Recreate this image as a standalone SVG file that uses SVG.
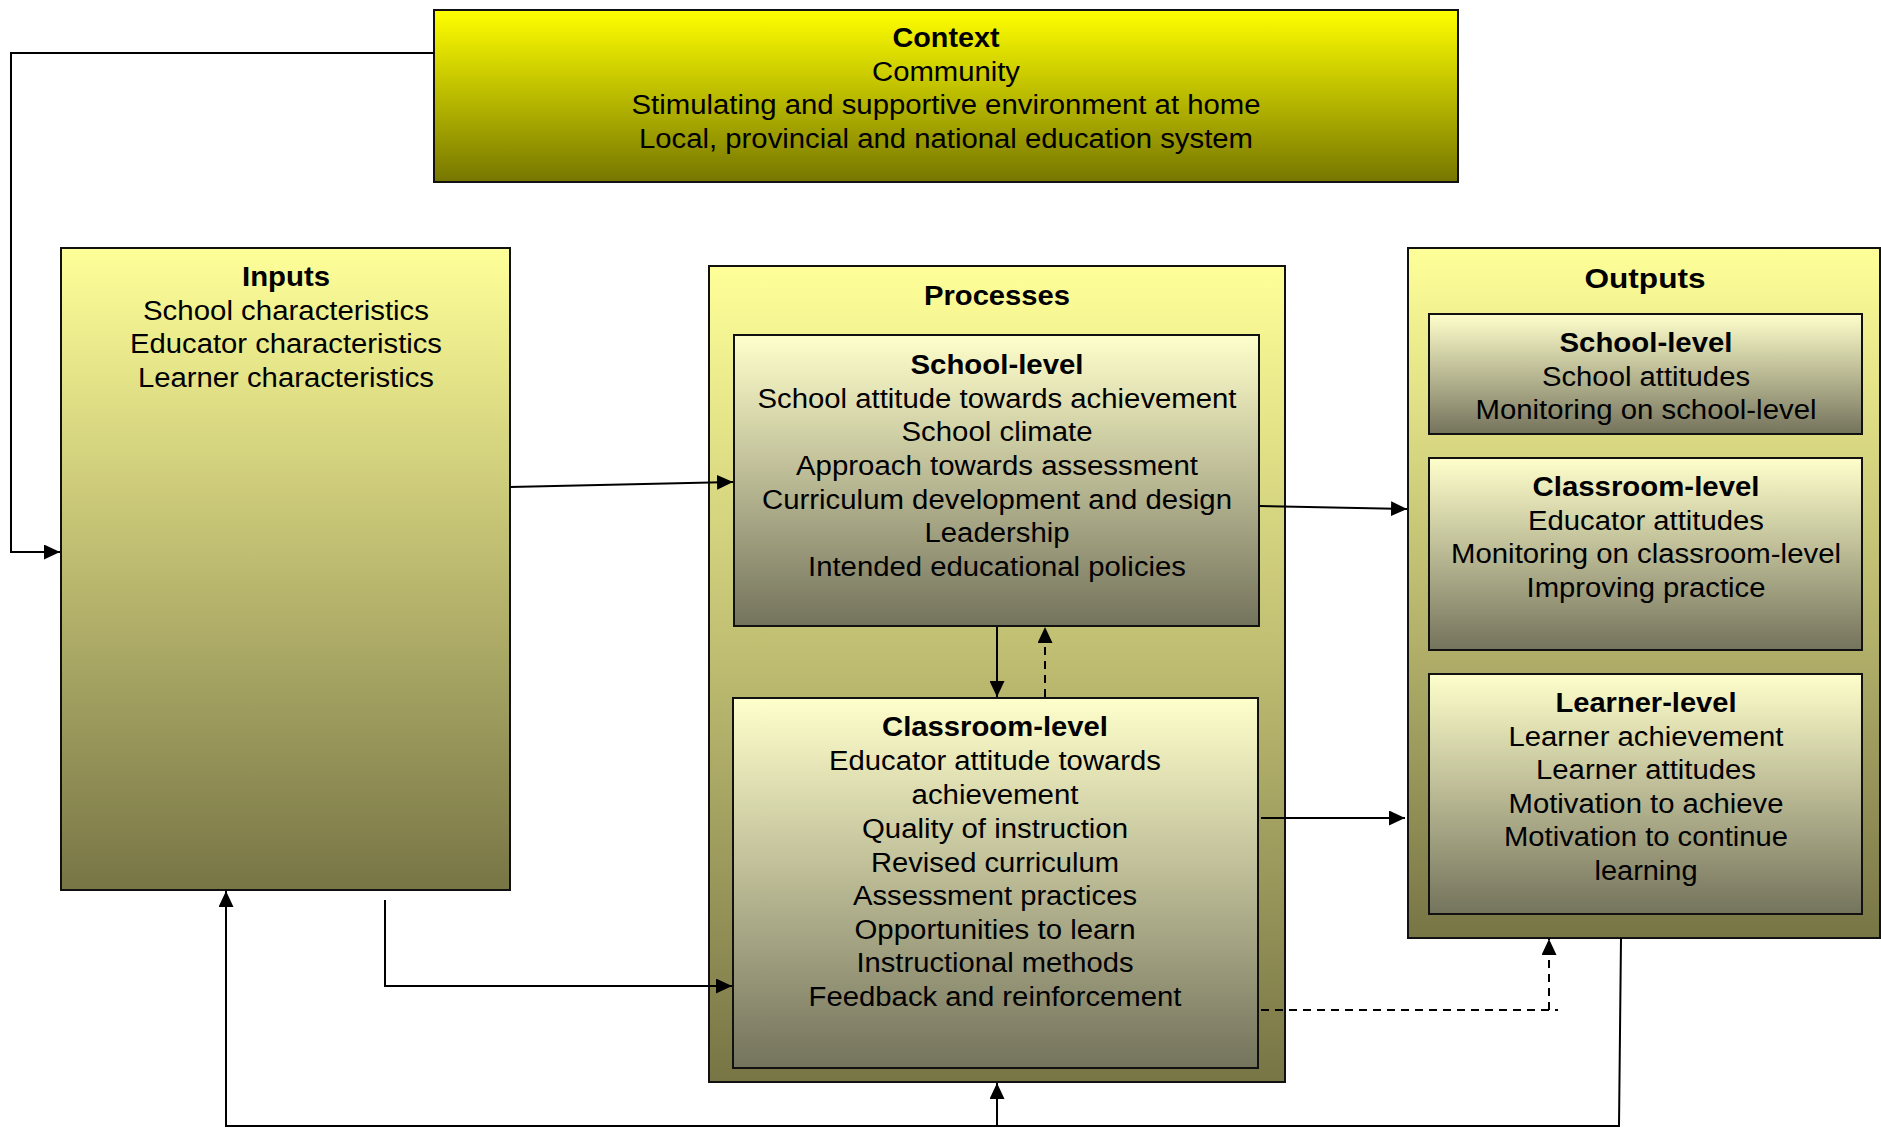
<svg xmlns="http://www.w3.org/2000/svg" width="1881" height="1128" viewBox="0 0 1881 1128">
<defs>
<linearGradient id="gCtx" x1="0" y1="0" x2="0" y2="1"><stop offset="0" stop-color="#FFFF00"/><stop offset="1" stop-color="#767600"/></linearGradient>
<linearGradient id="gOuter" x1="0" y1="0" x2="0" y2="1"><stop offset="0" stop-color="#FFFF99"/><stop offset="1" stop-color="#787546"/></linearGradient>
<linearGradient id="gInner" x1="0" y1="0" x2="0" y2="1"><stop offset="0" stop-color="#FFFFCC"/><stop offset="1" stop-color="#74735C"/></linearGradient>
<marker id="arr" markerUnits="userSpaceOnUse" markerWidth="17" markerHeight="15" refX="16" refY="7.5" orient="auto"><path d="M0,0 L16,7.5 L0,15 z" fill="#000"/></marker>
<style>
.box{stroke:#111;stroke-width:2}
.t{font-family:"Liberation Sans",Arial,sans-serif;font-size:27px;fill:#000;text-anchor:middle}
.b{font-weight:bold}
.c{fill:none;stroke:#000;stroke-width:2}
.d{stroke-dasharray:8,6}
</style>
</defs>
<g id="context">
<rect class="box" x="434" y="10" width="1024" height="172" fill="url(#gCtx)"/>
<text class="t b" x="946" y="47" textLength="107" lengthAdjust="spacingAndGlyphs">Context</text>
<text class="t" x="946" y="81" textLength="148" lengthAdjust="spacingAndGlyphs">Community</text>
<text class="t" x="946" y="114" textLength="629" lengthAdjust="spacingAndGlyphs">Stimulating and supportive environment at home</text>
<text class="t" x="946" y="148" textLength="614" lengthAdjust="spacingAndGlyphs">Local, provincial and national education system</text>
</g>
<g id="inputs">
<rect class="box" x="61" y="248" width="449" height="642" fill="url(#gOuter)"/>
<text class="t b" x="286" y="286" textLength="88" lengthAdjust="spacingAndGlyphs">Inputs</text>
<text class="t" x="286" y="320" textLength="286" lengthAdjust="spacingAndGlyphs">School characteristics</text>
<text class="t" x="286" y="353" textLength="312" lengthAdjust="spacingAndGlyphs">Educator characteristics</text>
<text class="t" x="286" y="387" textLength="296" lengthAdjust="spacingAndGlyphs">Learner characteristics</text>
</g>
<g id="processes">
<rect class="box" x="709" y="266" width="576" height="816" fill="url(#gOuter)"/>
<text class="t b" x="997" y="305" textLength="146" lengthAdjust="spacingAndGlyphs">Processes</text>
</g>
<g id="proc-school">
<rect class="box" x="734" y="335" width="525" height="291" fill="url(#gInner)"/>
<text class="t b" x="997" y="374" textLength="173" lengthAdjust="spacingAndGlyphs">School-level</text>
<text class="t" x="997" y="408" textLength="479" lengthAdjust="spacingAndGlyphs">School attitude towards achievement</text>
<text class="t" x="997" y="441" textLength="191" lengthAdjust="spacingAndGlyphs">School climate</text>
<text class="t" x="997" y="475" textLength="402" lengthAdjust="spacingAndGlyphs">Approach towards assessment</text>
<text class="t" x="997" y="509" textLength="470" lengthAdjust="spacingAndGlyphs">Curriculum development and design</text>
<text class="t" x="997" y="542" textLength="145" lengthAdjust="spacingAndGlyphs">Leadership</text>
<text class="t" x="997" y="576" textLength="378" lengthAdjust="spacingAndGlyphs">Intended educational policies</text>
</g>
<g id="proc-classroom">
<rect class="box" x="733" y="698" width="525" height="370" fill="url(#gInner)"/>
<text class="t b" x="995" y="736" textLength="226" lengthAdjust="spacingAndGlyphs">Classroom-level</text>
<text class="t" x="995" y="770" textLength="332" lengthAdjust="spacingAndGlyphs">Educator attitude towards</text>
<text class="t" x="995" y="804" textLength="167" lengthAdjust="spacingAndGlyphs">achievement</text>
<text class="t" x="995" y="838" textLength="266" lengthAdjust="spacingAndGlyphs">Quality of instruction</text>
<text class="t" x="995" y="872" textLength="248" lengthAdjust="spacingAndGlyphs">Revised curriculum</text>
<text class="t" x="995" y="905" textLength="284" lengthAdjust="spacingAndGlyphs">Assessment practices</text>
<text class="t" x="995" y="939" textLength="281" lengthAdjust="spacingAndGlyphs">Opportunities to learn</text>
<text class="t" x="995" y="972" textLength="277" lengthAdjust="spacingAndGlyphs">Instructional methods</text>
<text class="t" x="995" y="1006" textLength="373" lengthAdjust="spacingAndGlyphs">Feedback and reinforcement</text>
</g>
<g id="outputs">
<rect class="box" x="1408" y="248" width="472" height="690" fill="url(#gOuter)"/>
<text class="t b" x="1645" y="288" textLength="121" lengthAdjust="spacingAndGlyphs">Outputs</text>
</g>
<g id="out-school">
<rect class="box" x="1429" y="314" width="433" height="120" fill="url(#gInner)"/>
<text class="t b" x="1646" y="352" textLength="173" lengthAdjust="spacingAndGlyphs">School-level</text>
<text class="t" x="1646" y="386" textLength="208" lengthAdjust="spacingAndGlyphs">School attitudes</text>
<text class="t" x="1646" y="419" textLength="341" lengthAdjust="spacingAndGlyphs">Monitoring on school-level</text>
</g>
<g id="out-classroom">
<rect class="box" x="1429" y="458" width="433" height="192" fill="url(#gInner)"/>
<text class="t b" x="1646" y="496" textLength="227" lengthAdjust="spacingAndGlyphs">Classroom-level</text>
<text class="t" x="1646" y="530" textLength="236" lengthAdjust="spacingAndGlyphs">Educator attitudes</text>
<text class="t" x="1646" y="563" textLength="390" lengthAdjust="spacingAndGlyphs">Monitoring on classroom-level</text>
<text class="t" x="1646" y="597" textLength="239" lengthAdjust="spacingAndGlyphs">Improving practice</text>
</g>
<g id="out-learner">
<rect class="box" x="1429" y="674" width="433" height="240" fill="url(#gInner)"/>
<text class="t b" x="1646" y="712" textLength="181" lengthAdjust="spacingAndGlyphs">Learner-level</text>
<text class="t" x="1646" y="746" textLength="275" lengthAdjust="spacingAndGlyphs">Learner achievement</text>
<text class="t" x="1646" y="779" textLength="220" lengthAdjust="spacingAndGlyphs">Learner attitudes</text>
<text class="t" x="1646" y="813" textLength="275" lengthAdjust="spacingAndGlyphs">Motivation to achieve</text>
<text class="t" x="1646" y="846" textLength="284" lengthAdjust="spacingAndGlyphs">Motivation to continue</text>
<text class="t" x="1646" y="880" textLength="103" lengthAdjust="spacingAndGlyphs">learning</text>
</g>
<g id="connectors">
<polyline class="c" points="434,53 11,53 11,552 60,552" marker-end="url(#arr)"/>
<line class="c" x1="510" y1="487" x2="733" y2="482" marker-end="url(#arr)"/>
<line class="c" x1="1260" y1="506" x2="1407" y2="509" marker-end="url(#arr)"/>
<line class="c" x1="1261" y1="818" x2="1405" y2="818" marker-end="url(#arr)"/>
<line class="c" x1="997" y1="627" x2="997" y2="697" marker-end="url(#arr)"/>
<line class="c d" x1="1045" y1="697" x2="1045" y2="627" marker-end="url(#arr)"/>
<polyline class="c" points="385,900 385,986 732,986" marker-end="url(#arr)"/>
<polyline class="c d" points="1261,1010 1558,1010"/>
<line class="c d" x1="1549" y1="1010" x2="1549" y2="939" marker-end="url(#arr)"/>
<polyline class="c" points="1621,938 1619,1126 226,1126 226,891" marker-end="url(#arr)"/>
<line class="c" x1="997" y1="1126" x2="997" y2="1083" marker-end="url(#arr)"/>
</g>
</svg>
